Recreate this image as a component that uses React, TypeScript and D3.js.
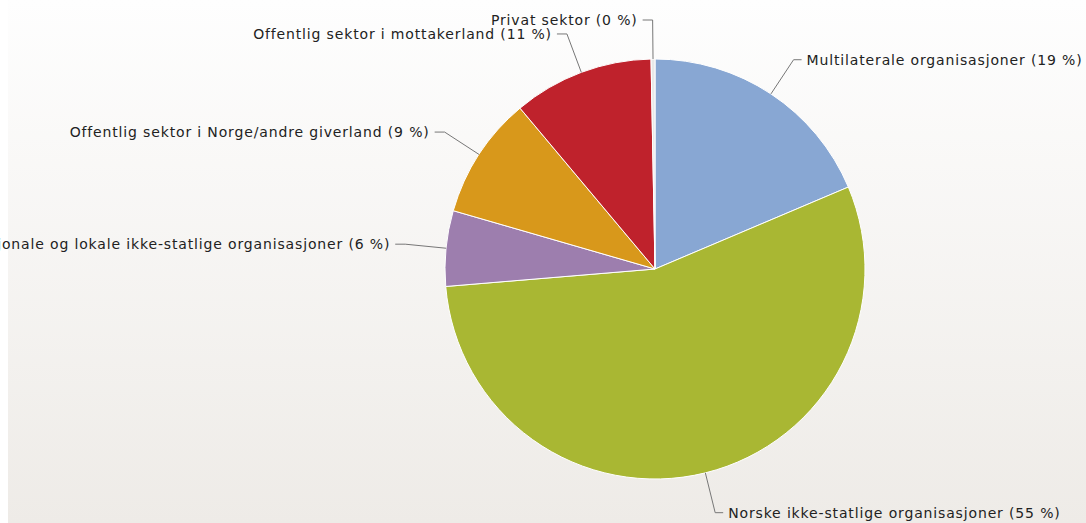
import React from "react";
import * as d3 from "d3";

const categories = [
  "Multilaterale organisasjoner",
  "Norske ikke-statlige organisasjoner",
  "Internasjonale og lokale ikke-statlige organisasjoner",
  "Offentlig sektor i Norge/andre giverland",
  "Offentlig sektor i mottakerland",
  "Privat sektor",
];
const values = [18.6, 55.0, 5.8, 9.4, 10.8, 0.3];
const percentLabels = ["19", "55", "6", "9", "11", "0"];
const colors = ["#88a7d3", "#a9b733", "#9d7eae", "#d8981b", "#bf222c", "#e8e8e8"];

const W = 1086;
const H = 523;
const cx = 655;
const cy = 269;
const R = 210;
const R2 = 251;

export default function App() {
  const data = categories.map((c, i) => ({ name: c, value: values[i], pct: percentLabels[i], color: colors[i] }));
  const pie = d3.pie<any>().sort(null).value((d) => d.value);
  const arcs = pie(data);
  const arc = d3.arc<any>().innerRadius(0).outerRadius(R);

  return (
    <svg width={W} height={H} style={{ position: "absolute", left: 0, top: 0 }}>
      <defs>
        <linearGradient id="bg" x1="0" y1="0" x2="0" y2="1">
          <stop offset="0%" stopColor="#fefefe" />
          <stop offset="100%" stopColor="#eeebe7" />
        </linearGradient>
      </defs>
      <rect x={0} y={0} width={W} height={H} fill="#ffffff" />
      <rect x={8} y={0} width={W - 8} height={H} fill="url(#bg)" />
      <g transform={`translate(${cx},${cy})`}>
        {arcs.map((a, i) => (
          <path key={i} d={arc(a) as string} fill={a.data.color} stroke="#ffffff" strokeWidth={1} strokeLinejoin="round" />
        ))}
      </g>
      {arcs.map((a, i) => {
        const mid = (a.startAngle + a.endAngle) / 2;
        const ex = cx + R * Math.sin(mid);
        const ey = cy - R * Math.cos(mid);
        const ly = Math.max(20, cy - R2 * Math.cos(mid));
        const bx = cx + R2 * Math.sin(mid);
        const right = Math.sin(mid) >= 0.0001;
        const dir = right ? 1 : -1;
        const tx = bx + dir * (right ? 13 : 15);
        const px = tx - dir * 5;
        const label = `${a.data.name} (${a.data.pct} %)`;
        return (
          <g key={i}>
            <path
              d={`M${px},${ly}L${bx},${ly}L${ex},${ey}`}
              fill="none"
              stroke="#777"
              strokeWidth={1}
            />
            <text
              x={tx}
              y={ly + 5}
              textAnchor={right ? "start" : "end"}
              fontFamily="DejaVu Sans, sans-serif"
              fontSize={14}
              letterSpacing={0.85}
              fill="#222"
            >
              {label}
            </text>
          </g>
        );
      })}
    </svg>
  );
}
